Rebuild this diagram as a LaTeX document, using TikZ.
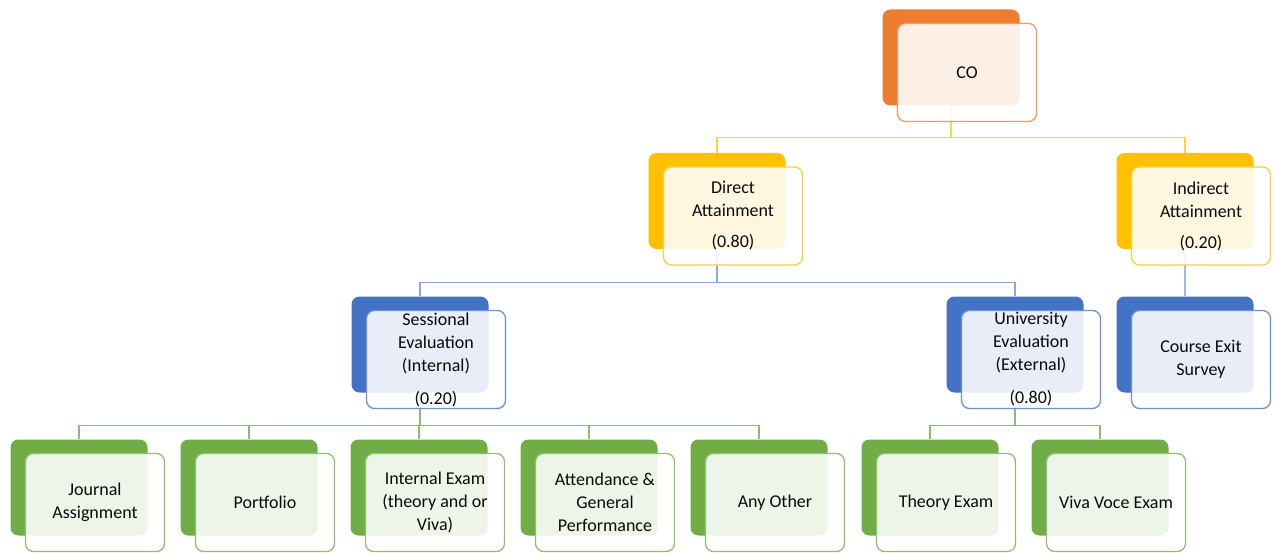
\documentclass[tikz,border=0pt]{standalone}
\usepackage{fontspec}
\setmainfont{Carlito}
\definecolor{acOrange}{HTML}{ED7D31}
\definecolor{acGold}{HTML}{FFC000}
\definecolor{acBlue}{HTML}{4472C4}
\definecolor{acGreen}{HTML}{70AD47}
\definecolor{txt}{HTML}{0A0A0A}

\tikzset{
  backbox/.style={fill=#1, draw=none, rounded corners=8pt,
    minimum width=137pt, minimum height=96pt, inner sep=0pt},
  frontbox/.style={draw=#1!78!white, line width=1.3pt, fill=white,
    fill opacity=0.88, text opacity=1, rounded corners=8pt,
    minimum width=139pt, minimum height=98pt, inner sep=2pt,
    align=center, text=txt, font=\fontsize{18}{23}\selectfont},
  link/.style={draw=#1, line width=1.4pt},
}

% back tile with a translucent card laid over it, offset down-right
\newcommand\backtile[4]{\node[backbox=#2] (#1) at (#3,#4) {};}
\newcommand\card[5]{\node[frontbox=#2] (#1F) at (#3+16,#4+15) {#5};}

\begin{document}
\begin{tikzpicture}[x=1pt,y=-1pt]
\useasboundingbox (0,0) rectangle (1273,553);

% solid back tiles
\backtile{co}{acOrange}{951}{57.5}
\backtile{da}{acGold}{717}{201}
\backtile{ia}{acGold}{1185}{201}
\backtile{se}{acBlue}{420}{344.5}
\backtile{ue}{acBlue}{1015}{344.5}
\backtile{ce}{acBlue}{1185}{344.5}
\backtile{b1}{acGreen}{79}{487.5}
\backtile{b2}{acGreen}{249}{487.5}
\backtile{b3}{acGreen}{419}{487.5}
\backtile{b4}{acGreen}{589}{487.5}
\backtile{b5}{acGreen}{759}{487.5}
\backtile{b6}{acGreen}{930}{487.5}
\backtile{b7}{acGreen}{1100}{487.5}

% connectors
\draw[link=acGold!72!white] (co.south) -- ++(0,32) -| (da.north);
\draw[link=acGold!72!white] (co.south) -- ++(0,32) -| (ia.north);
\draw[link=acBlue!62!white] (da.south) -- ++(0,33) -| (se.north);
\draw[link=acBlue!62!white] (da.south) -- ++(0,33) -| (ue.north);
\draw[link=acBlue!50!white] (ia.south) -- (ce.north);
\foreach \c in {b1,b2,b3,b4,b5}
  \draw[link=acGreen!80!white] (se.south) -- ++(0,32.5) -| (\c.north);
\foreach \c in {b6,b7}
  \draw[link=acGreen!80!white] (ue.south) -- ++(0,32.5) -| (\c.north);

% translucent cards with labels
\card{co}{acOrange}{951}{57.5}{CO}
\card{da}{acGold}{717}{201}{Direct\\Attainment\\[8pt](0.80)}
\card{ia}{acGold}{1185}{201}{Indirect\\Attainment\\[8pt](0.20)}
\card{se}{acBlue}{420}{344.5}{Sessional\\Evaluation\\(Internal)\\[10pt](0.20)}
\card{ue}{acBlue}{1015}{344.5}{University\\Evaluation\\(External)\\[10pt](0.80)}
\card{ce}{acBlue}{1185}{344.5}{Course Exit\\Survey}
\card{b1}{acGreen}{79}{487.5}{Journal\\Assignment}
\card{b2}{acGreen}{249}{487.5}{Portfolio}
\card{b3}{acGreen}{419}{487.5}{Internal Exam\\(theory and or\\Viva)}
\card{b4}{acGreen}{589}{487.5}{Attendance \&\\General\\Performance}
\card{b5}{acGreen}{759}{487.5}{Any Other}
\card{b6}{acGreen}{930}{487.5}{Theory Exam}
\card{b7}{acGreen}{1100}{487.5}{Viva Voce Exam}
\end{tikzpicture}
\end{document}
